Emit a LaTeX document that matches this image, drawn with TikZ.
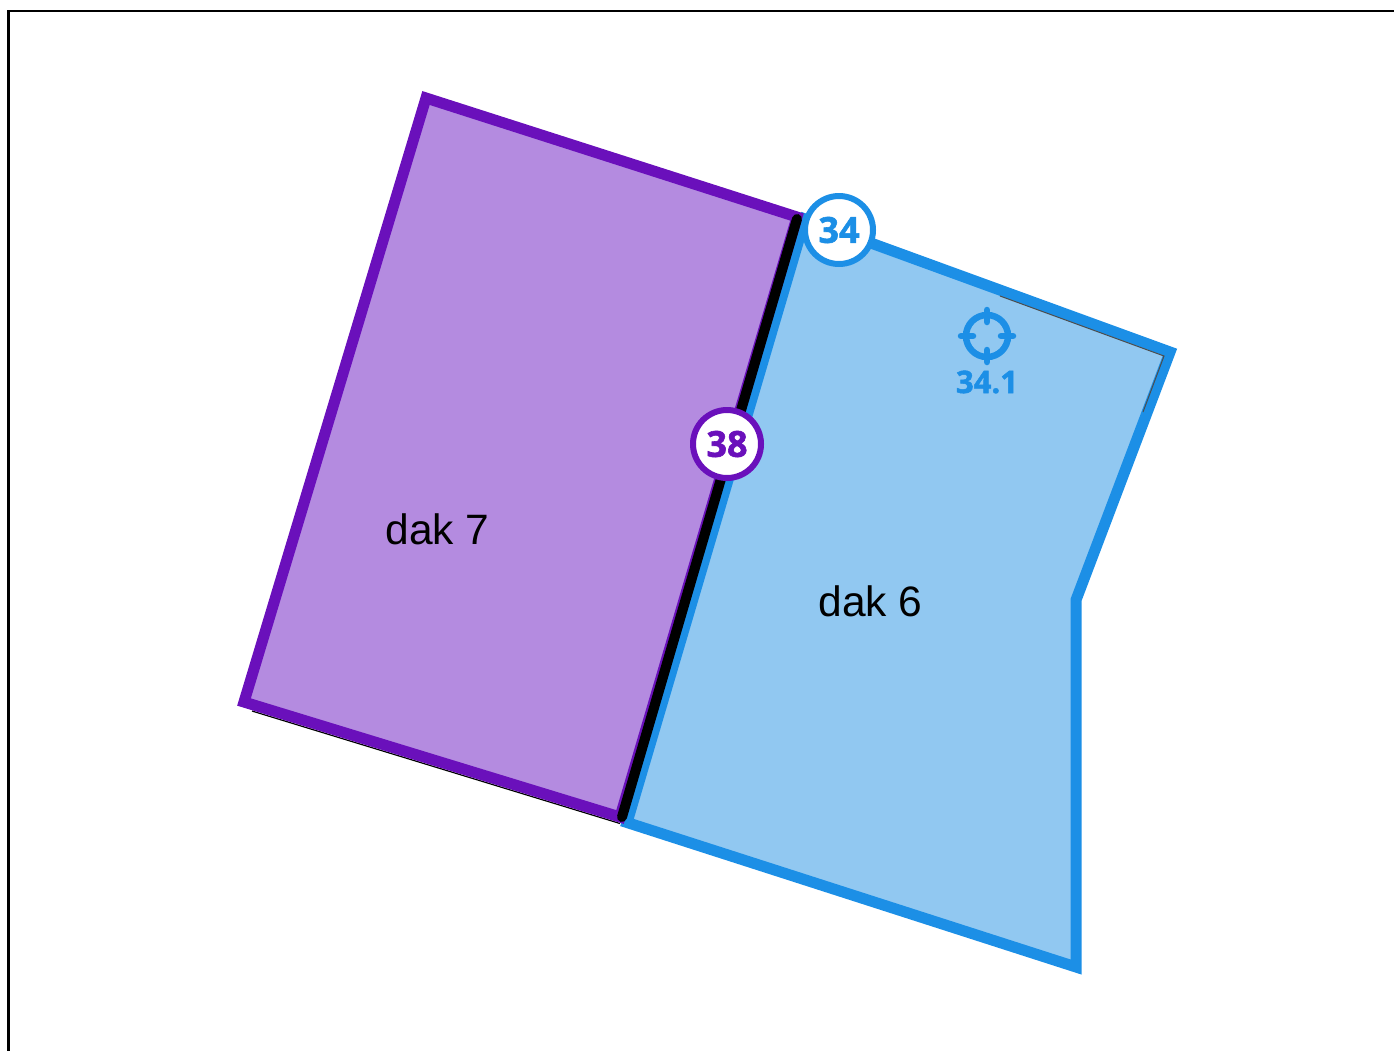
\documentclass[tikz,border=0pt]{standalone}
\usepackage{fontspec}
\setmainfont{Liberation Sans}
\newfontfamily\badgefont[FakeBold=1.6]{Open Sans Bold}
\definecolor{roofblue}{HTML}{1C8FE6}
\definecolor{roofbluefill}{HTML}{91C8F1}
\definecolor{roofpurple}{HTML}{6A10BB}
\definecolor{roofpurplefill}{HTML}{B48BE0}
\tikzset{
  x=1pt,y=-1pt,
  edge/.style={line width=11pt,line join=miter,miter limit=10},
  badge/.style={circle,draw,fill=white,line width=6pt,minimum size=68pt,inner sep=0pt,font=\badgefont\fontsize{36}{36}\selectfont},
  roofname/.style={font=\fontsize{42.5}{42.5}\selectfont,text=black,inner sep=0pt},
  tick/.style={line width=6.5pt,line cap=round,roofblue}
}
\begin{document}
\begin{tikzpicture}
\useasboundingbox (0,0) rectangle (1394,1050);
% frame
\draw[line width=2.6pt,black] (8.5,1052) -- (8.5,11) -- (1396,11);
% dak 6
\fill[roofbluefill] (805,219) -- (1170,352) -- (1076,600) -- (1076,967) -- (627,822.5) -- cycle;
\draw[roofblue,edge] (805,219) -- (1170,352) -- (1076,600) -- (1076,967) -- (627,822.5) -- cycle;
\draw[black!70,line width=1pt] (1000,296) -- (1164,356) -- (1143,412);
% dak 7
\fill[roofpurplefill] (426,98) -- (797,217) -- (620,817) -- (244,702) -- cycle;
\draw[black,line width=1.2pt] (252,711) -- (620,823.5);
\draw[roofpurple,edge] (426,98) -- (797,217) -- (620,817) -- (244,702) -- cycle;
% shared edge
\coordinate (sharedTop) at (797,219);
\coordinate (sharedBottom) at (622,817);
\draw[black,line width=10pt,line cap=round] (sharedTop) -- (sharedBottom);
% labels
\node[roofname] (dakseven) at (437.5,529) {dak 7};
\node[roofname] (daksix) at (870.5,601) {dak 6};
\node[badge,draw=roofblue,text=roofblue] (b34) at (839,230) {34};
\node[badge,draw=roofpurple,text=roofpurple] (b38) at (727,444) {38};
% target
\draw[roofblue,line width=6.5pt] (987,336) circle (21);
\draw[tick] (987,310) -- (987,322);
\draw[tick] (987,350) -- (987,362);
\draw[tick] (961,336) -- (973,336);
\draw[tick] (1001,336) -- (1013,336);
\node[font=\badgefont\fontsize{31}{31}\selectfont,text=roofblue,inner sep=0pt] (target) at (987,382) {34.1};
\end{tikzpicture}
\end{document}
